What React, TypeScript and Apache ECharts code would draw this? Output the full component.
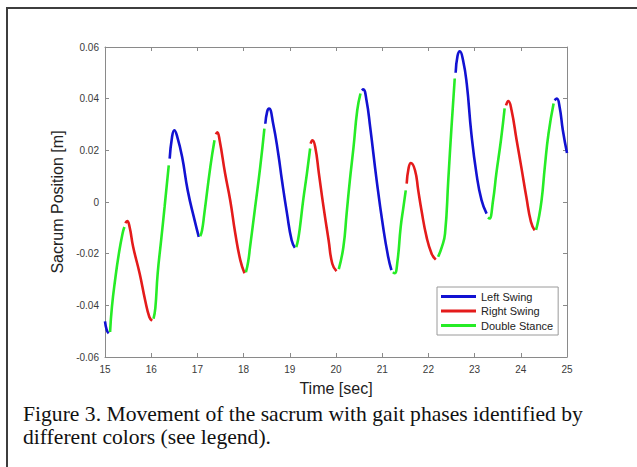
import React, { useEffect, useRef } from "react";
import * as echarts from "echarts";

// ---- data (time [sec], sacrum position [m]) ----
const leftSwingSegments: number[][][] = [
  [[15.0, -0.0462], [15.04, -0.0497], [15.08, -0.0508]],
  [[16.4, 0.0168], [16.45, 0.025], [16.5, 0.0278], [16.56, 0.0255], [16.67, 0.0174], [16.79, 0.0045], [16.94, -0.0071], [17.03, -0.0135]],
  [[18.47, 0.0303], [18.51, 0.035], [18.55, 0.0362], [18.64, 0.0303], [18.75, 0.0187], [18.83, 0.0084], [18.94, -0.0045], [19.04, -0.0148], [19.11, -0.0177]],
  [[20.56, 0.0432], [20.59, 0.0436], [20.66, 0.0394], [20.74, 0.029], [20.88, 0.0084], [21.02, -0.0097], [21.13, -0.0213], [21.2, -0.0264]],
  [[22.59, 0.05], [22.63, 0.0565], [22.68, 0.0583], [22.75, 0.0549], [22.83, 0.0458], [22.93, 0.0265], [23.04, 0.011], [23.15, 0.0007], [23.26, -0.0045]],
  [[24.73, 0.0394], [24.78, 0.04], [24.84, 0.0368], [24.91, 0.0278], [25.0, 0.019]],
];

const rightSwingSegments: number[][][] = [
  [[15.44, -0.0082], [15.48, -0.0074], [15.53, -0.0095], [15.61, -0.0174], [15.75, -0.0277], [15.87, -0.0381], [15.96, -0.0445], [16.02, -0.046]],
  [[17.4, 0.0262], [17.43, 0.027], [17.48, 0.024], [17.6, 0.011], [17.71, 0.0007], [17.82, -0.0122], [17.93, -0.0226], [18.02, -0.0276]],
  [[19.45, 0.0226], [19.49, 0.0239], [19.55, 0.0213], [19.63, 0.011], [19.73, -0.0019], [19.84, -0.0148], [19.92, -0.0239], [20.01, -0.0268]],
  [[21.53, 0.0071], [21.57, 0.013], [21.62, 0.0151], [21.71, 0.0123], [21.78, 0.0045], [21.85, -0.0032], [21.96, -0.0135], [22.07, -0.02], [22.16, -0.0223]],
  [[23.68, 0.0374], [23.73, 0.0391], [23.8, 0.0355], [23.91, 0.0239], [24.01, 0.0136], [24.12, 0.0019], [24.22, -0.0077], [24.3, -0.011]],
];

const doubleStanceSegments: number[][][] = [
  [[15.11, -0.0503], [15.15, -0.0406], [15.22, -0.03], [15.3, -0.02], [15.38, -0.0122], [15.42, -0.0097]],
  [[16.05, -0.0452], [16.09, -0.041], [16.14, -0.0277], [16.22, -0.014], [16.29, -0.0019], [16.38, 0.0142]],
  [[17.06, -0.0132], [17.1, -0.011], [17.15, -0.0045], [17.28, 0.0136], [17.37, 0.0239]],
  [[18.05, -0.0272], [18.1, -0.023], [18.14, -0.0174], [18.25, -0.002], [18.36, 0.0136], [18.45, 0.0284]],
  [[19.14, -0.0175], [19.18, -0.0145], [19.22, -0.0097], [19.29, 0.0007], [19.37, 0.011], [19.44, 0.0207]],
  [[20.06, -0.026], [20.16, -0.0174], [20.23, -0.0045], [20.3, 0.0084], [20.38, 0.0213], [20.46, 0.0355], [20.53, 0.042]],
  [[21.23, -0.0272], [21.27, -0.0276], [21.33, -0.023], [21.4, -0.0097], [21.46, -0.0019], [21.51, 0.0045]],
  [[22.21, -0.0212], [22.29, -0.0175], [22.36, -0.0122], [22.43, 0.0084], [22.5, 0.029], [22.57, 0.0478]],
  [[23.29, -0.006], [23.32, -0.0064], [23.4, 0.0007], [23.47, 0.011], [23.57, 0.0239], [23.65, 0.0362]],
  [[24.33, -0.0108], [24.38, -0.007], [24.45, 0.0007], [24.52, 0.0136], [24.6, 0.0265], [24.71, 0.0381]],
];

const seriesNames = ["Left Swing", "Right Swing", "Double Stance"];
const seriesColors = ["#1212d2", "#e41b1b", "#26ec26"];
const xTicks = { min: 15, max: 25, step: 1 };
const yTicks = { min: -0.06, max: 0.06, step: 0.02 };
const xTitle = "Time [sec]";
const yTitle = "Sacrum Position [m]";
const captionLines = [
  "Figure 3. Movement of the sacrum with gait phases identified by",
  "different colors (see legend).",
];

function joinSegments(segs: number[][][]) {
  const out: (number[] | null)[] = [];
  segs.forEach((s, i) => {
    if (i > 0) out.push(null);
    s.forEach((p) => out.push(p));
  });
  return out;
}

const SANS = "'Liberation Sans', Arial, Helvetica, sans-serif";
const SERIF = "'Liberation Serif', 'Times New Roman', serif";
const AXIS_COLOR = "#8a8a8a";
const LABEL_COLOR = "#3a3a3a";

export default function App() {
  const ref = useRef<HTMLDivElement>(null);
  useEffect(() => {
    if (!ref.current) return;
    const chart = echarts.init(ref.current, undefined, { renderer: "svg" });
    const allSegs = [leftSwingSegments, rightSwingSegments, doubleStanceSegments];
    const yFmt = (v: number) => {
      const r = Math.round(v * 100) / 100;
      return r === 0 ? "0" : r.toFixed(2);
    };
    const common = {
      type: "value" as const,
      axisLine: { show: true, onZero: false, lineStyle: { color: AXIS_COLOR, width: 1 } },
      axisTick: { show: true, inside: true, length: 4, lineStyle: { color: AXIS_COLOR } },
      splitLine: { show: false },
    };
    chart.setOption({
      animation: false,
      backgroundColor: "#ffffff",
      grid: { left: 105, top: 47, width: 462, height: 310, containLabel: false },
      xAxis: [
        {
          ...common,
          position: "bottom",
          min: xTicks.min,
          max: xTicks.max,
          interval: xTicks.step,
          axisLabel: { color: LABEL_COLOR, fontSize: 10, margin: 7, fontFamily: SANS },
          name: xTitle,
          nameLocation: "middle",
          nameGap: 23,
          nameTextStyle: { fontSize: 16, color: "#222", fontFamily: SANS },
        },
        {
          ...common,
          position: "top",
          min: xTicks.min,
          max: xTicks.max,
          interval: xTicks.step,
          axisLabel: { show: false },
        },
      ],
      yAxis: [
        {
          ...common,
          position: "left",
          min: yTicks.min,
          max: yTicks.max,
          interval: yTicks.step,
          axisLabel: { color: LABEL_COLOR, fontSize: 10, margin: 6, fontFamily: SANS, formatter: yFmt },
          name: yTitle,
          nameLocation: "middle",
          nameGap: 30,
          nameTextStyle: { fontSize: 16, color: "#222", fontFamily: SANS },
        },
        {
          ...common,
          position: "right",
          min: yTicks.min,
          max: yTicks.max,
          interval: yTicks.step,
          axisLabel: { show: false },
        },
      ],
      legend: {
        data: seriesNames,
        orient: "vertical",
        left: 437,
        top: 287,
        icon: "rect",
        itemWidth: 35,
        itemHeight: 3,
        itemGap: 1.5,
        padding: [3, 5, 3, 4],
        borderColor: "#9a9a9a",
        borderWidth: 1,
        backgroundColor: "#ffffff",
        textStyle: { fontSize: 11, lineHeight: 13, color: "#222", fontFamily: SANS },
      },
      graphic: [
        {
          type: "rect",
          shape: { x: 7, y: 8, width: 700, height: 600 },
          style: { fill: "none", stroke: "#3d3d3d", lineWidth: 2 },
          silent: true,
        },
        ...captionLines.map((t, i) => ({
          type: "text",
          x: 23,
          y: 414 + i * 23,
          scaleX: 1.03,
          style: {
            text: t,
            fontSize: 21,
            fontFamily: SERIF,
            fill: "#111",
            verticalAlign: "middle",
            align: "left",
          },
          silent: true,
        })),
      ],
      series: seriesNames.map((name, i) => ({
        name,
        type: "line",
        xAxisIndex: 0,
        yAxisIndex: 0,
        data: joinSegments(allSegs[i]),
        connectNulls: false,
        smooth: 0.5,
        symbol: "none",
        showSymbol: false,
        lineStyle: { color: seriesColors[i], width: 2.6 },
        itemStyle: { color: seriesColors[i] },
        clip: true,
      })),
    });
    return () => chart.dispose();
  }, []);
  return (
    <div
      ref={ref}
      style={{ position: "absolute", left: 0, top: 0, width: 637, height: 467 }}
    />
  );
}
